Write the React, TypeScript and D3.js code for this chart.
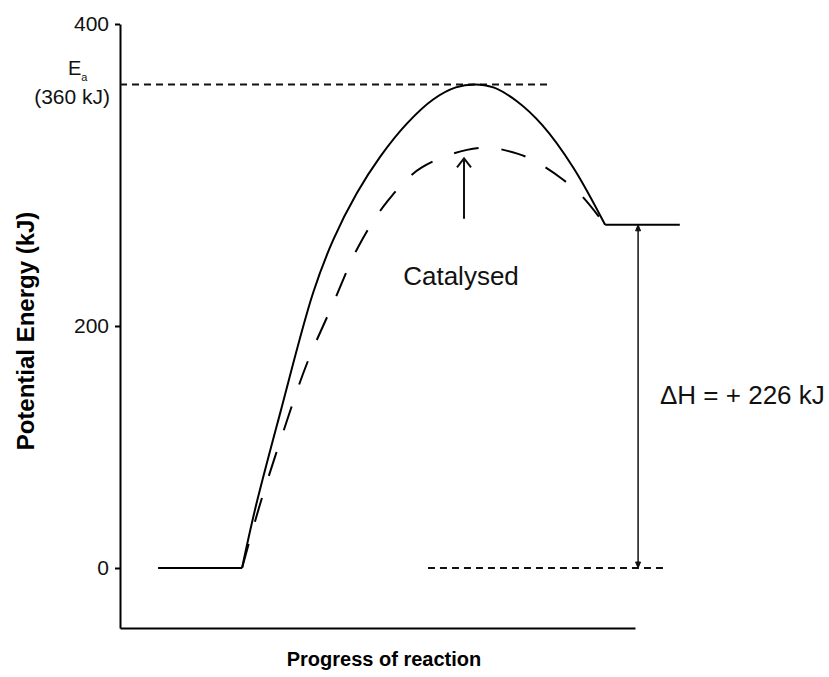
import React, { useRef, useEffect } from 'react';
import * as d3 from 'd3';

// energy ticks shown on the y axis
const energyTicks = [0, 200, 400];

// reactant / product plateaus (progress from, progress to, energy)
const reactantLevel = [7.4, 23.7, 0];
const productLevel = [94.2, 108.7, 267];

// uncatalysed pathway (solid)
const uncatProgress = [23.7, 26.2, 31.1, 37.5, 41.4, 46.0, 50.5, 55.7, 60.8, 65.2, 68.9, 72.5, 77.0, 82.0, 88.0, 94.2];
const uncatEnergy = [0, 48, 128, 222, 257, 288, 312, 334, 350, 358, 360, 358, 349, 333, 305, 267];

// catalysed pathway (dashed)
const catProgress = [23.7, 27.0, 31.5, 36.3, 41.4, 46.2, 51.8, 58.6, 69.9, 77.3, 81.7, 86.0, 89.7, 94.2];
const catEnergy = [0, 50, 110, 169, 215, 252, 282, 305, 318, 314, 307, 297, 286, 267];

// guide lines
const eaLine = [0, 83, 360];
const zeroLine = [59.8, 106.2, 0];
const catArrow = [66.8, 271, 311];
const dHArrow = [100.6, 0, 267];

const App = () => {
  const xAxisRef = useRef<SVGGElement>(null);
  const yAxisRef = useRef<SVGGElement>(null);

  const width = 829;
  const height = 677;

  const x = d3.scaleLinear().domain([0, 100]).range([120, 635]);
  // the original sketch is not to scale, so the energy axis is piecewise
  const y = d3.scaleLinear().domain([-50, 0, 200, 400]).range([628, 568, 326, 24]);

  useEffect(() => {
    const gy = d3.select(yAxisRef.current);
    gy.selectAll('*').remove();
    gy.call(d3.axisLeft(y).tickValues(energyTicks).tickSize(5).tickSizeOuter(0).tickPadding(6) as any);
    gy.attr('font-size', 21).attr('font-family', 'Liberation Sans, Arial, sans-serif');
    gy.selectAll('path, line').attr('stroke', '#000').attr('stroke-width', 2);
    gy.selectAll('text').attr('fill', '#111');

    const gx = d3.select(xAxisRef.current);
    gx.selectAll('*').remove();
    gx.call(d3.axisBottom(x).tickValues([]).tickSizeOuter(0) as any);
    gx.selectAll('path').attr('stroke', '#000').attr('stroke-width', 2);
  }, []);

  const uncatPath = d3.line<number>()
    .x(d => x(d))
    .y((d, i) => y(uncatEnergy[i]))
    .curve(d3.curveCatmullRom.alpha(0.5))(uncatProgress) || '';
  const catPath = d3.line<number>()
    .x(d => x(d))
    .y((d, i) => y(catEnergy[i]))
    .curve(d3.curveCatmullRom.alpha(0.5))(catProgress) || '';

  const ax = x(catArrow[0]);
  const aBottom = y(catArrow[1]);
  const aTip = y(catArrow[2]);

  const hx = x(dHArrow[0]);
  const hBottom = y(dHArrow[1]);
  const hTop = y(dHArrow[2]);

  const font = 'Liberation Sans, Arial, sans-serif';

  return (
    <svg width={width} height={height} style={{ position: 'absolute', left: 0, top: 0, background: '#fff' }} fontFamily={font}>
      <g ref={yAxisRef} transform={`translate(${x(0)},0)`} />
      <g ref={xAxisRef} transform={`translate(0,${y(-50)})`} />

      {/* Ea guide */}
      <line x1={x(eaLine[0])} x2={x(eaLine[1])} y1={y(eaLine[2])} y2={y(eaLine[2])}
        stroke="#111" strokeWidth={2} strokeDasharray="7 5" />
      {/* zero-energy guide on the right */}
      <line x1={x(zeroLine[0])} x2={x(zeroLine[1])} y1={y(zeroLine[2])} y2={y(zeroLine[2])}
        stroke="#111" strokeWidth={2} strokeDasharray="7 5" />

      {/* plateaus */}
      <line x1={x(reactantLevel[0])} x2={x(reactantLevel[1])} y1={y(reactantLevel[2])} y2={y(reactantLevel[2])}
        stroke="#000" strokeWidth={2} />
      <line x1={x(productLevel[0])} x2={x(productLevel[1])} y1={y(productLevel[2])} y2={y(productLevel[2])}
        stroke="#000" strokeWidth={2} />

      <path d={uncatPath} fill="none" stroke="#000" strokeWidth={2} />
      <path d={catPath} fill="none" stroke="#000" strokeWidth={2} strokeDasharray="25 23" />

      {/* catalysed arrow */}
      <line x1={ax} x2={ax} y1={aBottom} y2={aTip} stroke="#111" strokeWidth={2} />
      <path d={`M${ax - 7},${aTip + 9}L${ax},${aTip}L${ax + 7},${aTip + 9}`} fill="none" stroke="#111" strokeWidth={2} />

      {/* delta H double arrow */}
      <line x1={hx} x2={hx} y1={hBottom} y2={hTop} stroke="#111" strokeWidth={1.5} />
      <path d={`M${hx - 2.5},${hTop + 6}L${hx},${hTop}L${hx + 2.5},${hTop + 6}Z`} fill="#111" stroke="#111" strokeWidth={1} />
      <path d={`M${hx - 2.5},${hBottom - 6}L${hx},${hBottom}L${hx + 2.5},${hBottom - 6}Z`} fill="#111" stroke="#111" strokeWidth={1} />

      {/* labels */}
      <text x={68} y={75} fontSize={20} fill="#111">E<tspan fontSize={11} dy={6}>a</tspan></text>
      <text x={110} y={104} fontSize={21} textAnchor="end" fill="#111">(360 kJ)</text>
      <text x={461} y={285} fontSize={26} textAnchor="middle" fill="#111">Catalysed</text>
      <text x={660} y={404} fontSize={26} fill="#111">ΔH = + 226 kJ</text>

      <text transform={`translate(34,${331}) rotate(-90)`} fontSize={24} fontWeight="bold" textAnchor="middle" fill="#000">
        Potential Energy (kJ)
      </text>
      <text x={384} y={666} fontSize={20} fontWeight="bold" textAnchor="middle" fill="#000">
        Progress of reaction
      </text>
    </svg>
  );
};

export default App;
